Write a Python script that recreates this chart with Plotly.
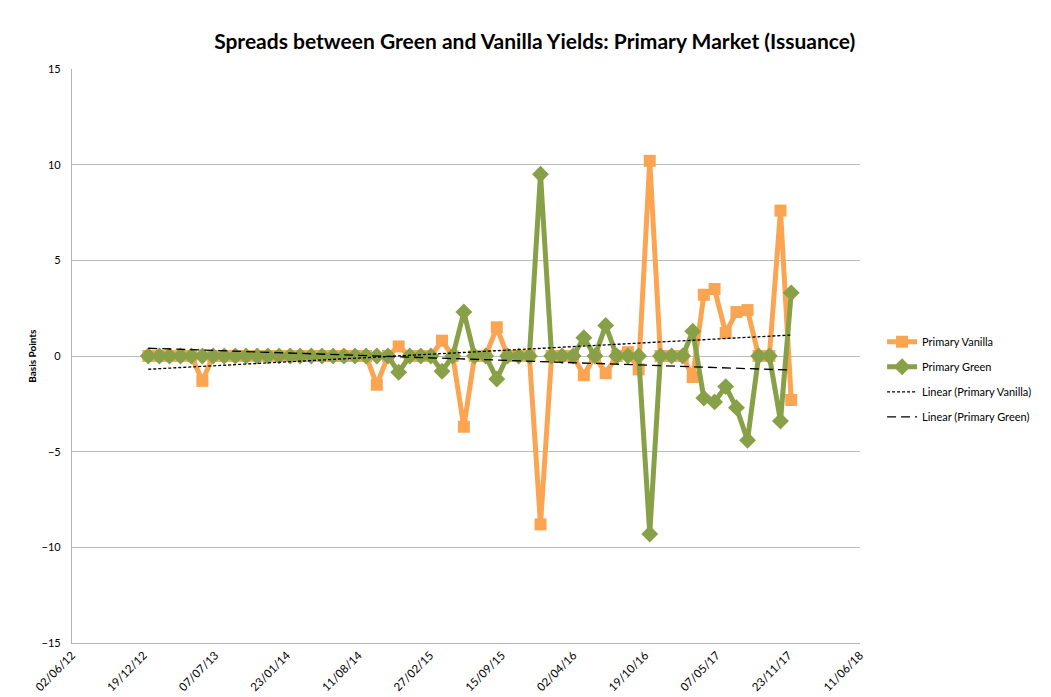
import numpy as np
import pandas as pd
import plotly.graph_objs as go

# monthly issuance observations, Jan 2013 - Dec 2017
months = [
    '2013-01-01', '2013-02-01', '2013-03-01', '2013-04-01', '2013-05-01', '2013-06-01',
    '2013-07-01', '2013-08-01', '2013-09-01', '2013-10-01', '2013-11-01', '2013-12-01',
    '2014-01-01', '2014-02-01', '2014-03-01', '2014-04-01', '2014-05-01', '2014-06-01',
    '2014-07-01', '2014-08-01', '2014-09-01', '2014-10-01', '2014-11-01', '2014-12-01',
    '2015-01-01', '2015-02-01', '2015-03-01', '2015-04-01', '2015-05-01', '2015-06-01',
    '2015-07-01', '2015-08-01', '2015-09-01', '2015-10-01', '2015-11-01', '2015-12-01',
    '2016-01-01', '2016-02-01', '2016-03-01', '2016-04-01', '2016-05-01', '2016-06-01',
    '2016-07-01', '2016-08-01', '2016-09-01', '2016-10-01', '2016-11-01', '2016-12-01',
    '2017-01-01', '2017-02-01', '2017-03-01', '2017-04-01', '2017-05-01', '2017-06-01',
    '2017-07-01', '2017-08-01', '2017-09-01', '2017-10-01', '2017-11-01', '2017-12-01',
]

primary_vanilla = [
    0, 0, 0, 0, 0, -1.3, 0, 0, 0, 0, 0, 0,
    0, 0, 0, 0, 0, 0, 0, 0, 0, -1.5, 0, 0.5,
    0, 0, 0, 0.8, 0, -3.7, 0, 0, 1.5, 0, 0, 0,
    -8.8, 0, 0, 0, -1.0, 0, -0.9, 0, 0.2, -0.7, 10.2, 0,
    0, 0, -1.1, 3.2, 3.5, 1.2, 2.3, 2.4, 0, 0, 7.6, -2.3,
]

primary_green = [
    0, 0, 0, 0, 0, 0, 0, 0, 0, 0, 0, 0,
    0, 0, 0, 0, 0, 0, 0, 0, 0, 0, 0, -0.85,
    0, 0, 0, -0.8, 0, 2.3, 0, 0, -1.2, 0, 0, 0,
    9.5, 0, 0, 0, 0.95, 0, 1.6, 0, 0, 0, -9.3, 0,
    0, 0, 1.3, -2.2, -2.4, -1.6, -2.7, -4.4, 0, 0, -3.4, 3.3,
]

orange = '#FBA552'
green = '#88A047'

dates = pd.to_datetime(months)
days = (dates - dates[0]).days.values.astype(float)


def linear_trend(values):
    # least squares fit over the date serials, like an Excel linear trendline
    slope, intercept = np.polyfit(days, np.array(values, dtype=float), 1)
    ends = np.array([days[0], days[-1]])
    return [dates[0], dates[-1]], list(slope * ends + intercept)


fig = go.Figure()

fig.add_trace(go.Scatter(
    x=dates, y=primary_vanilla, name='Primary Vanilla', mode='lines+markers',
    line=dict(color=orange, width=5),
    marker=dict(symbol='square', size=12, color=orange),
    legendgroup='a'
))

fig.add_trace(go.Scatter(
    x=dates, y=primary_green, name='Primary Green', mode='lines+markers',
    line=dict(color=green, width=5),
    marker=dict(symbol='diamond', size=13, color=green),
    legendgroup='b'
))

tx, ty = linear_trend(primary_vanilla)
fig.add_trace(go.Scatter(
    x=tx, y=ty, name='Linear (Primary Vanilla)', mode='lines',
    line=dict(color='black', width=1.3, dash='3px,2px'),
    legendgroup='c'
))

tx, ty = linear_trend(primary_green)
fig.add_trace(go.Scatter(
    x=tx, y=ty, name='Linear (Primary Green)', mode='lines',
    line=dict(color='black', width=1.3, dash='9px,5px'),
    legendgroup='d'
))

# the page body adds an 8px offset, so the figure is 8px smaller each way
fig.update_layout(
    width=1043, height=689,
    margin=dict(l=64, r=191, t=61, b=54),
    paper_bgcolor='white', plot_bgcolor='white',
    font=dict(family='Lato, Liberation Sans, sans-serif', size=11, color='black'),
    title=dict(
        text='<b>Spreads between Green and Vanilla Yields: Primary Market (Issuance)</b>',
        x=0.505, xref='container', xanchor='center',
        y=0.951, yref='container', yanchor='middle',
        font=dict(size=21, color='black')
    ),
    showlegend=True,
    legend=dict(
        x=1.028, xanchor='left', y=0.550, yanchor='top',
        font=dict(size=11), tracegroupgap=6,
        bgcolor='rgba(0,0,0,0)'
    ),
)

fig.update_xaxes(
    type='date', range=['2012-06-02', '2018-06-11'],
    tick0='2012-06-02', dtick=200 * 86400000, tickformat='%d/%m/%y',
    tickangle=-45, showgrid=False, zeroline=False,
    showline=True, linecolor='#B3B3B3', linewidth=1.3,
    ticks='', tickfont=dict(size=11.5), automargin=False
)

fig.update_yaxes(
    range=[-15, 15], dtick=5, tick0=-15,
    showgrid=True, gridcolor='#BDBDBD', gridwidth=1.3,
    zeroline=True, zerolinecolor='#BDBDBD', zerolinewidth=1.3,
    showline=True, linecolor='#B3B3B3', linewidth=1.3,
    ticks='', ticklabelstandoff=8, tickfont=dict(size=11), automargin=False
)

fig.add_annotation(
    text='<b>Basis Points</b>', textangle=-90,
    xref='paper', yref='paper', x=-0.051, y=0.5,
    xanchor='center', yanchor='middle', showarrow=False,
    font=dict(size=10)
)

# left edge of the chart area frame
fig.add_shape(
    type='line', xref='paper', yref='paper',
    x0=-0.0825, x1=-0.0825, y0=-0.2, y1=1.25,
    line=dict(color='#BFBFBF', width=1.3)
)

fig.write_html('out.html')
